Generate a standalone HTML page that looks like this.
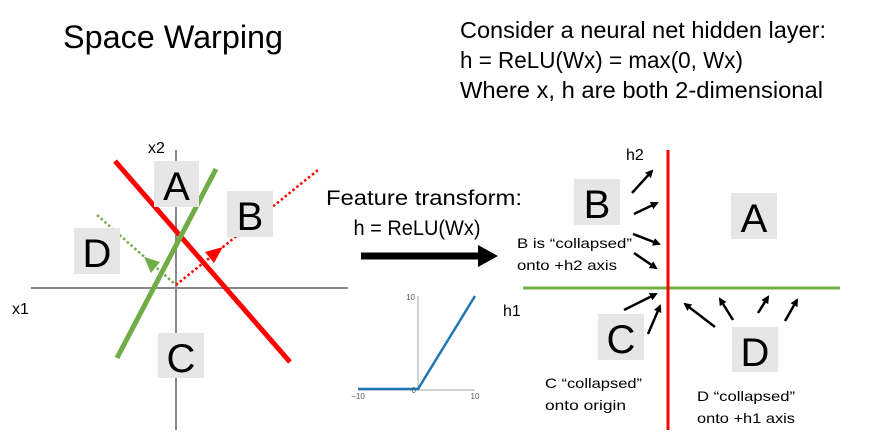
<!DOCTYPE html>
<html><head><meta charset="utf-8"><style>
html,body{margin:0;padding:0;background:#fff;}
svg{display:block;}
text{font-family:"Liberation Sans",sans-serif;fill:#000;}
</style></head><body>
<svg width="883" height="436" viewBox="0 0 883 436" xmlns="http://www.w3.org/2000/svg">
<defs>
<marker id="ab" markerWidth="8" markerHeight="8" refX="6" refY="4" orient="auto" markerUnits="userSpaceOnUse" viewBox="0 0 8 8"><path d="M0,0 L8,4 L0,8 z" fill="#000"/></marker>
</defs>
<!-- title -->
<text x="63" y="48" font-size="32" textLength="220" lengthAdjust="spacingAndGlyphs">Space Warping</text>
<text x="460" y="38" font-size="23" textLength="366" lengthAdjust="spacingAndGlyphs">Consider a neural net hidden layer:</text>
<text x="460" y="68" font-size="23" textLength="283" lengthAdjust="spacingAndGlyphs">h = ReLU(Wx) = max(0, Wx)</text>
<text x="460" y="98" font-size="23" textLength="363" lengthAdjust="spacingAndGlyphs">Where x, h are both 2-dimensional</text>

<!-- left plot -->
<line x1="31" y1="288" x2="348" y2="288" stroke="#888" stroke-width="2"/>
<line x1="176" y1="150" x2="176" y2="430" stroke="#888" stroke-width="2"/>
<text x="148" y="153" font-size="16">x2</text>
<text x="12" y="314" font-size="16">x1</text>
<line x1="115" y1="161" x2="290" y2="362" stroke="#f00" stroke-width="5"/>
<line x1="216" y1="169" x2="117" y2="358" stroke="#70ad47" stroke-width="5"/>
<line x1="176" y1="285" x2="318" y2="170" stroke="#f00" stroke-width="2.5" stroke-dasharray="2.5,2.5"/>
<path d="M223,247 L214,263 L205,252 z" fill="#f00"/>
<line x1="97" y1="215" x2="176" y2="285" stroke="#70ad47" stroke-width="2.5" stroke-dasharray="2.5,2.5"/>
<path d="M144,257 L160,262 L151,273 z" fill="#70ad47"/>
<rect x="154" y="161" width="45" height="46" fill="#e6e6e6"/>
<text x="176.5" y="200" font-size="40" text-anchor="middle">A</text>
<rect x="227" y="191" width="46" height="46" fill="#e6e6e6"/>
<text x="250" y="230" font-size="40" text-anchor="middle">B</text>
<rect x="74" y="228" width="46" height="46" fill="#e6e6e6"/>
<text x="97" y="267" font-size="40" text-anchor="middle">D</text>
<rect x="158" y="333" width="46" height="45" fill="#e6e6e6"/>
<text x="181" y="372" font-size="40" text-anchor="middle">C</text>

<!-- middle -->
<text x="424" y="205" font-size="21" text-anchor="middle" textLength="196" lengthAdjust="spacingAndGlyphs">Feature transform:</text>
<text x="417" y="235" font-size="21" text-anchor="middle" textLength="127" lengthAdjust="spacingAndGlyphs">h = ReLU(Wx)</text>
<line x1="361" y1="256" x2="480" y2="256" stroke="#000" stroke-width="7"/>
<path d="M478,245 L498,256 L478,267 z" fill="#000"/>

<!-- relu plot -->
<line x1="358" y1="390" x2="475" y2="390" stroke="#aaa" stroke-width="1"/>
<line x1="418" y1="296" x2="418" y2="390" stroke="#aaa" stroke-width="1"/>
<polyline points="358,389 418,389 475,296" fill="none" stroke="#1f77b4" stroke-width="2.5"/>
<text x="415" y="300" font-size="8" text-anchor="end" style="fill:#555">10</text>
<text x="416" y="393" font-size="8" text-anchor="end" style="fill:#555">0</text>
<text x="358" y="399" font-size="8" text-anchor="middle" style="fill:#555">−10</text>
<text x="475" y="399" font-size="8" text-anchor="middle" style="fill:#555">10</text>

<!-- right plot -->
<line x1="523" y1="288" x2="840" y2="288" stroke="#70ad47" stroke-width="3"/>
<line x1="668" y1="150" x2="668" y2="430" stroke="#f00" stroke-width="3"/>
<text x="626" y="160" font-size="16">h2</text>
<text x="503" y="316" font-size="16">h1</text>
<g stroke="#000" stroke-width="2.5" marker-end="url(#ab)">
<line x1="632" y1="193" x2="652" y2="171"/>
<line x1="634" y1="214" x2="657" y2="203"/>
<line x1="633" y1="234" x2="659" y2="244"/>
<line x1="634" y1="253" x2="656" y2="268"/>
<line x1="624" y1="310" x2="656" y2="294"/>
<line x1="648" y1="334" x2="660" y2="306"/>
<line x1="715" y1="327" x2="685" y2="304"/>
<line x1="733" y1="320" x2="720" y2="299"/>
<line x1="758" y1="313" x2="768" y2="297"/>
<line x1="785" y1="321" x2="797" y2="300"/>
</g>
<rect x="574" y="179" width="46" height="46" fill="#e6e6e6"/>
<text x="597" y="218" font-size="40" text-anchor="middle">B</text>
<rect x="731" y="193" width="46" height="46" fill="#e6e6e6"/>
<text x="754" y="232" font-size="40" text-anchor="middle">A</text>
<rect x="598" y="314" width="46" height="46" fill="#e6e6e6"/>
<text x="621" y="353" font-size="40" text-anchor="middle">C</text>
<rect x="732" y="327" width="46" height="45" fill="#e6e6e6"/>
<text x="755" y="366" font-size="40" text-anchor="middle">D</text>
<text x="517" y="248" font-size="14" textLength="115" lengthAdjust="spacingAndGlyphs">B is “collapsed”</text>
<text x="517" y="270" font-size="14" textLength="100" lengthAdjust="spacingAndGlyphs">onto +h2 axis</text>
<text x="545" y="388" font-size="14" textLength="97" lengthAdjust="spacingAndGlyphs">C “collapsed”</text>
<text x="545" y="410" font-size="14" textLength="81" lengthAdjust="spacingAndGlyphs">onto origin</text>
<text x="697" y="401" font-size="14" textLength="98" lengthAdjust="spacingAndGlyphs">D “collapsed”</text>
<text x="697" y="423" font-size="14" textLength="98" lengthAdjust="spacingAndGlyphs">onto +h1 axis</text>
</svg>
</body></html>
